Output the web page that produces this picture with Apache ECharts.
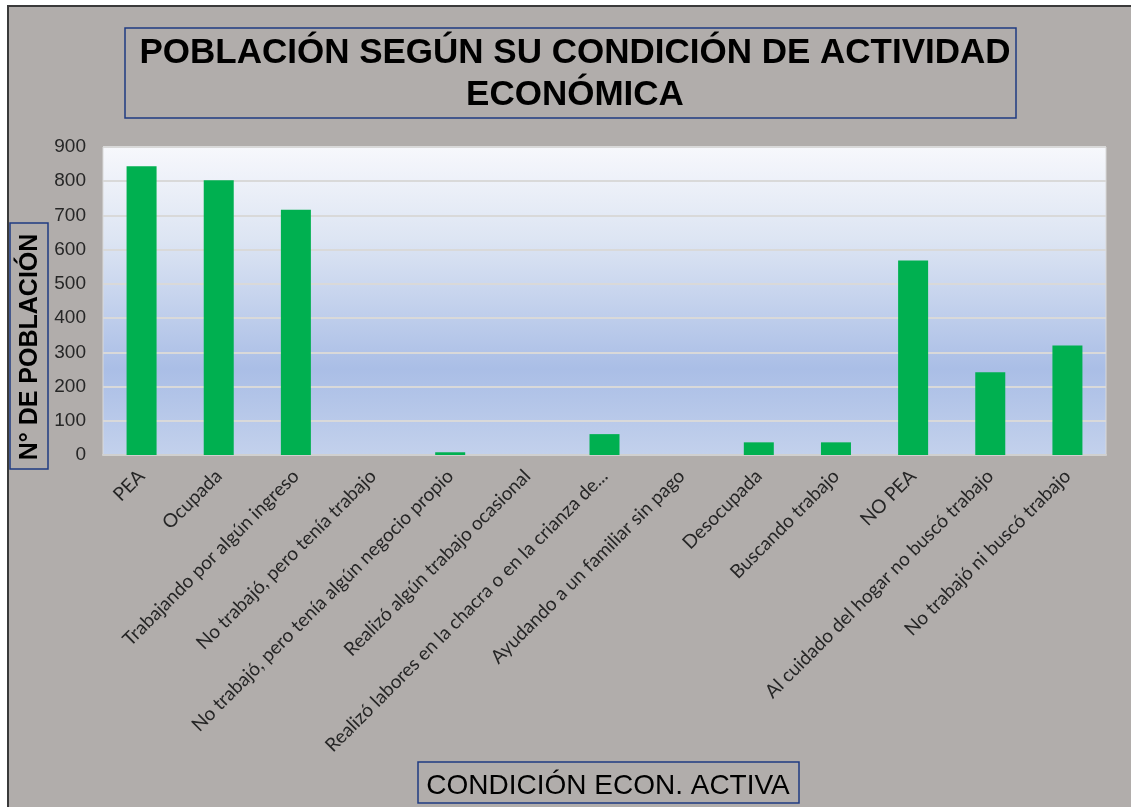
<!DOCTYPE html>
<html>
<head>
<meta charset="utf-8">
<script src="https://cdn.jsdelivr.net/npm/echarts@6/dist/echarts.min.js"></script>
<style>
  html, body { margin: 0; padding: 0; background: #ffffff; }
  #chart { width: 1131px; height: 807px; }
</style>
</head>
<body>
<div id="chart"></div>
<script>
const titleText = 'POBLACIÓN SEGÚN SU CONDICIÓN DE ACTIVIDAD\nECONÓMICA';
const yAxisTitle = 'N° DE POBLACIÓN';
const xAxisTitle = 'CONDICIÓN ECON. ACTIVA';
const categories = [
  'PEA',
  'Ocupada',
  'Trabajando por algún ingreso',
  'No trabajó, pero tenía trabajo',
  'No trabajó, pero tenía algún negocio propio',
  'Realizó algún trabajo ocasional',
  'Realizó labores en la chacra o en la crianza de...',
  'Ayudando a un familiar sin pago',
  'Desocupada',
  'Buscando trabajo',
  'NO PEA',
  'Al cuidado del hogar no buscó trabajo',
  'No trabajó ni buscó trabajo'
];
const values = [844, 803, 717, 0, 8, 0, 61, 0, 37, 37, 568, 242, 320];
const yMin = 0;
const yMax = 900;
const yInterval = 100;

const chart = echarts.init(document.getElementById('chart'), null, { renderer: 'canvas' });

const option = {
  backgroundColor: '#ffffff',
  animation: false,
  title: [
    {
      text: titleText,
      left: 570,
      top: 27,
      textAlign: 'center',
      textStyle: {
        fontFamily: 'Liberation Sans, Arial, sans-serif',
        fontWeight: 'bold',
        fontSize: 35,
        lineHeight: 42,
        color: '#000000'
      }
    },
    {
      text: xAxisTitle,
      left: 603,
      top: 764,
      textAlign: 'center',
      textStyle: {
        fontFamily: 'Liberation Sans, Arial, sans-serif',
        fontWeight: 'normal',
        fontSize: 28,
        lineHeight: 34,
        color: '#000000'
      }
    }
  ],
  graphic: [
    {
      type: 'rect',
      z: -100,
      shape: { x: 8, y: 6, width: 1200, height: 900 },
      style: { fill: '#b1adab', stroke: '#3a3a3a', lineWidth: 2 },
      silent: true
    },
    {
      type: 'rect',
      z: 10,
      shape: { x: 125, y: 28, width: 891, height: 90 },
      style: { fill: 'none', stroke: '#1f3b83', lineWidth: 1.5 },
      silent: true
    },
    {
      type: 'rect',
      z: 10,
      shape: { x: 418, y: 762, width: 381, height: 41 },
      style: { fill: 'none', stroke: '#1f3b83', lineWidth: 1.5 },
      silent: true
    },
    {
      type: 'rect',
      z: 10,
      shape: { x: 10, y: 223, width: 38, height: 246 },
      style: { fill: 'none', stroke: '#1f3b83', lineWidth: 1.5 },
      silent: true
    },
    {
      type: 'text',
      z: 10,
      x: 30,
      y: 347,
      rotation: Math.PI / 2,
      style: {
        text: yAxisTitle,
        font: 'bold 25px "Liberation Sans", Arial, sans-serif',
        fill: '#000000',
        align: 'center',
        verticalAlign: 'middle'
      },
      silent: true
    }
  ],
  grid: {
    left: 103,
    top: 147,
    right: 25,
    bottom: 352,
    show: true,
    borderColor: '#d9d9d9',
    borderWidth: 1,
    backgroundColor: new echarts.graphic.LinearGradient(0, 0, 0, 1, [
      { offset: 0, color: '#f7f8fc' },
      { offset: 0.3, color: '#dde5f3' },
      { offset: 0.72, color: '#aabee6' },
      { offset: 1, color: '#c3d1ec' }
    ])
  },
  xAxis: {
    type: 'category',
    data: categories,
    axisTick: { show: false },
    axisLine: { show: true, lineStyle: { color: '#d0d0d0', width: 2 } },
    axisLabel: {
      interval: 0,
      rotate: 45,
      margin: 18,
      fontFamily: 'Lato, "Open Sans", sans-serif',
      fontSize: 19,
      color: '#262626'
    }
  },
  yAxis: {
    type: 'value',
    min: yMin,
    max: yMax,
    interval: yInterval,
    axisLine: { show: false },
    axisTick: { show: false },
    splitLine: { lineStyle: { color: '#d9d9d9', width: 2 } },
    axisLabel: {
      margin: 17,
      fontFamily: 'Liberation Sans, Arial, sans-serif',
      fontSize: 19,
      color: '#262626'
    }
  },
  series: [
    {
      type: 'bar',
      data: values,
      barWidth: 30,
      itemStyle: { color: '#00b050', borderWidth: 0 }
    }
  ]
};

chart.setOption(option);
</script>
</body>
</html>
